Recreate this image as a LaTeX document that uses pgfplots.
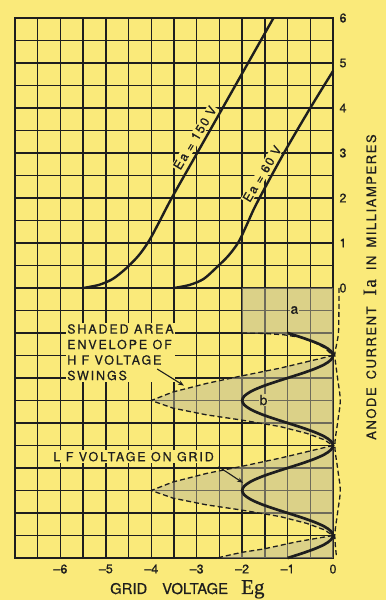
\documentclass[border=0pt]{standalone}
\usepackage{fontspec}
\setmainfont{TeX Gyre Heros}[FakeBold=0.6]
\newfontfamily\wide[LetterSpace=15,FakeBold=0.6]{TeX Gyre Heros}
\newfontfamily\widee[LetterSpace=12,FakeBold=0.6]{TeX Gyre Heros}
\newfontfamily\ser[FakeBold=0.6]{Liberation Serif}
\usepackage{pgfplots}
\pgfplotsset{compat=1.18}
\usetikzlibrary{arrows.meta}
\definecolor{bg}{RGB}{250,234,122}
\definecolor{ink}{RGB}{30,30,30}
\definecolor{shade}{RGB}{190,185,150}
\definecolor{shadeop}{RGB}{220,210,136}
\begin{document}
\begin{tikzpicture}
\fill[bg] (0,0) rectangle (386pt,600pt);
\path[use as bounding box] (0,0) rectangle (386pt,600pt);
\begin{axis}[
  at={(15pt,42pt)}, anchor=south west,
  scale only axis, width=318pt, height=540pt,
  xmin=-7, xmax=0, ymin=-6, ymax=6,
  clip=false,
  axis line style={ink, line width=2pt},
  xtick={-6,-5,-4,-3,-2,-1,0},
  xticklabels={\textendash6,\textendash5,\textendash4,\textendash3,\textendash2,\textendash1,0},
  minor xtick={-6.5,-5.5,-4.5,-3.5,-2.5,-1.5,-0.5},
  ytick={0,1,2,3,4,5,6},
  yticklabels={0,1,2,3,4,5,6},
  minor ytick={-5.5,-5,-4.5,-4,-3.5,-3,-2.5,-2,-1.5,-1,-0.5,0.5,1.5,2.5,3.5,4.5,5.5},
  grid=both,
  major grid style={ink, line width=1.5pt},
  minor grid style={ink, line width=1.5pt},
  major tick length=0pt, minor tick length=0pt,
  yticklabel pos=right,
  tick label style={font=\fontsize{12.5}{13}\selectfont, text=ink},
  xticklabel style={yshift=-3pt},
  yticklabel style={xshift=3pt},
]
% shaded area (envelope of HF swings)
\addplot[draw=none, fill=shade, fill opacity=0.5] coordinates {
 (-2,0) (0,0) (0,-6) (-2.55,-6) (-2.26,-5.93) (-1.98,-5.87) (-1.53,-5.8) (-0.8,-5.64) (-0.4,-5.57) (0,-5.5)
 (-0.2,-5.37) (-0.58,-5.23) (-1.16,-5.08) (-2.04,-4.93) (-2.78,-4.82) (-3.52,-4.67) (-4,-4.5)
 (-3.52,-4.31) (-2.78,-4.12) (-2.04,-3.97) (-1.16,-3.78) (-0.58,-3.64) (0,-3.5)
 (-0.2,-3.37) (-0.58,-3.23) (-1.16,-3.08) (-2.04,-2.93) (-2.78,-2.82) (-3.52,-2.67) (-4,-2.5)
 (-3.52,-2.31) (-2.78,-2.12) (-2.04,-1.96) (-1.16,-1.78) (-0.58,-1.64) (0,-1.5)
 (-0.2,-1.32) (-0.43,-1.2) (-0.7,-1.1) (-1.08,-1.04) (-1.5,-1.01) (-2,-1) (-2,0)};
% labels placed before the curves
\node[rotate=59, anchor=south, font=\widee\fontsize{12.5}{13}\selectfont, text=ink, fill=bg, inner sep=1pt] at (axis cs:-2.93,3.27) {Ea = 150 V};
\node[rotate=59, anchor=south, font=\widee\fontsize{12.5}{13}\selectfont, text=ink, fill=bg, inner sep=1pt] at (axis cs:-1.45,2.47) {Ea = 60 V};
\node[anchor=north west, align=left, font=\wide\fontsize{12.5}{15.5}\selectfont, text=ink, fill=bg, inner sep=1.5pt] at (axis cs:-5.888,-0.767) {SHADED AREA\\ENVELOPE OF\\H F VOLTAGE\\SWINGS};
\node[anchor=north west, font=\wide\fontsize{12.5}{15.5}\selectfont, text=ink, fill=bg, inner sep=1.5pt] at (axis cs:-6.19,-3.604) {L F VOLTAGE ON GRID};
\node[font=\fontsize{14}{14}\selectfont, text=ink, fill=shadeop, inner sep=0.8pt] at (axis cs:-0.85,-0.49) {a};
\node[font=\fontsize{14}{14}\selectfont, text=ink, fill=shadeop, inner sep=0.8pt] at (axis cs:-1.53,-2.49) {b};
% characteristic curves
\addplot[ink, line width=2.4pt, smooth] coordinates {
 (-5.5,0) (-5.15,0.07) (-4.85,0.2) (-4.55,0.44) (-4.28,0.72) (-4.06,1.03) (-3.85,1.42) (-3.55,2.0)
 (-2.99,3.0) (-2.43,4.0) (-1.87,5.0) (-1.31,6.0)};
\addplot[ink, line width=2.4pt, smooth] coordinates {
 (-3.5,0) (-3.15,0.07) (-2.85,0.2) (-2.58,0.44) (-2.3,0.72) (-2.08,1.02) (-1.9,1.4) (-1.68,1.88)
 (-1.08,3.0) (-0.5,4.0) (0,4.82)};
% envelope (dashed)
\addplot[ink, line width=1.3pt, dash pattern=on 5pt off 3pt] coordinates {
 (-2,-1) (-1.5,-1.01) (-1.08,-1.04) (-0.7,-1.1) (-0.43,-1.2) (-0.2,-1.32) (0,-1.5)
 (-0.58,-1.64) (-1.16,-1.78) (-2.04,-1.96) (-2.78,-2.12) (-3.52,-2.31) (-4,-2.5)
 (-3.52,-2.67) (-2.78,-2.82) (-2.04,-2.93) (-1.16,-3.08) (-0.58,-3.23) (-0.2,-3.37) (0,-3.5)
 (-0.58,-3.64) (-1.16,-3.78) (-2.04,-3.97) (-2.78,-4.12) (-3.52,-4.31) (-4,-4.5)
 (-3.52,-4.67) (-2.78,-4.82) (-2.04,-4.93) (-1.16,-5.08) (-0.58,-5.23) (-0.2,-5.37) (0,-5.5)
 (-0.4,-5.57) (-0.8,-5.64) (-1.53,-5.8) (-1.98,-5.87) (-2.26,-5.93) (-2.55,-6)};
\addplot[ink, line width=1.3pt, dash pattern=on 5pt off 3pt, smooth] coordinates {
 (0.13,0) (0.13,-0.5) (0.12,-1.0) (0.07,-1.3) (0.04,-1.5) (0.1,-2.0) (0.16,-2.5) (0.1,-3.0)
 (0.04,-3.5) (0.1,-4.0) (0.16,-4.5) (0.1,-5.0) (0.04,-5.5) (0.08,-6.0)};
% LF voltage on grid
\addplot[ink, line width=1.6pt] coordinates {(-1,0) (-1,-1)};
\addplot[ink, line width=2.7pt, smooth] coordinates {
 (-1,-1) (-0.691,-1.1) (-0.412,-1.2) (-0.191,-1.3) (-0.049,-1.4) (0,-1.5) (-0.049,-1.6) (-0.191,-1.7) (-0.412,-1.8) (-0.691,-1.9)
 (-1,-2) (-1.309,-2.1) (-1.588,-2.2) (-1.809,-2.3) (-1.951,-2.4) (-2,-2.5) (-1.951,-2.6) (-1.809,-2.7) (-1.588,-2.8) (-1.309,-2.9)
 (-1,-3) (-0.691,-3.1) (-0.412,-3.2) (-0.191,-3.3) (-0.049,-3.4) (0,-3.5) (-0.049,-3.6) (-0.191,-3.7) (-0.412,-3.8) (-0.691,-3.9)
 (-1,-4) (-1.309,-4.1) (-1.588,-4.2) (-1.809,-4.3) (-1.951,-4.4) (-2,-4.5) (-1.951,-4.6) (-1.809,-4.7) (-1.588,-4.8) (-1.309,-4.9)
 (-1,-5) (-0.691,-5.1) (-0.412,-5.2) (-0.191,-5.3) (-0.049,-5.4) (0,-5.5) (-0.049,-5.6) (-0.191,-5.7) (-0.412,-5.8) (-0.691,-5.9) (-1,-6)};
% pointer arrows
\draw[ink, line width=1.1pt, -{Stealth[length=6pt,width=4.5pt]}] (axis cs:-3.87,-1.8) -- (axis cs:-3.28,-2.17);
\draw[ink, line width=1.1pt, -{Stealth[length=6pt,width=4.5pt]}] (axis cs:-2.52,-3.97) -- (axis cs:-1.98,-4.33);
\end{axis}
% axis titles
\node[anchor=base west, inner sep=0pt, text=ink, font=\fontsize{14.8}{15}\selectfont] at (110pt,6pt) {GRID};
\node[anchor=base west, inner sep=0pt, text=ink, font=\fontsize{14.8}{15}\selectfont] at (162pt,6pt) {VOLTAGE};
\node[anchor=base west, inner sep=0pt, text=ink, font=\ser\fontsize{21}{21}\selectfont] at (241pt,6pt) {Eg};
\node[anchor=base west, inner sep=0pt, rotate=90, text=ink, font=\widee\fontsize{13}{13}\selectfont] at (376pt,160pt)
 {ANODE\hspace{8pt}CURRENT\hspace{11pt}{\ser\fontsize{19}{19}\selectfont I\hspace{1.5pt}a}\hspace{9pt}IN\hspace{8pt}MILLIAMPERES};
\end{tikzpicture}
\end{document}
